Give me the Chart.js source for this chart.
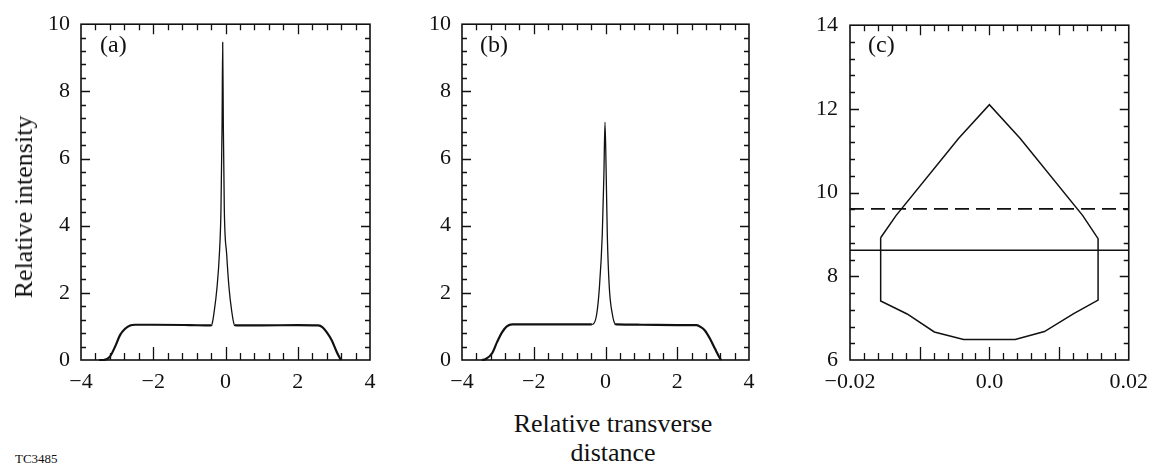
<!DOCTYPE html>
<html>
<head>
<meta charset="utf-8">
<script src="https://cdn.jsdelivr.net/npm/chart.js@4.4.1/dist/chart.umd.min.js"></script>
<style>
  body { margin: 0; background: #fff; width: 1157px; height: 465px; overflow: hidden; position: relative; }
  .painel { position: absolute; top: 0; height: 400px; }
  .txt { position: absolute; color: #111; white-space: nowrap; font-family: "Liberation Serif", "Times New Roman", serif; }
</style>
</head>
<body>
<div class="painel" style="left:0;width:390px"><canvas id="grafA"></canvas></div>
<div class="painel" style="left:400px;width:390px"><canvas id="grafB"></canvas></div>
<div class="painel" style="left:780px;width:377px"><canvas id="grafC"></canvas></div>

<div class="txt" style="left:100px;top:32px;font-size:24px;line-height:24px">(a)</div>
<div class="txt" style="left:480px;top:32px;font-size:24px;line-height:24px">(b)</div>
<div class="txt" style="left:868px;top:32px;font-size:24px;line-height:24px">(c)</div>
<div class="txt" style="left:24px;top:207px;font-size:26px;line-height:26px;transform:translate(-50%,-50%) rotate(-90deg)">Relative intensity</div>
<div class="txt" style="left:613px;top:409px;font-size:26px;line-height:29px;text-align:center;transform:translateX(-50%)">Relative transverse<br>distance</div>
<div class="txt" style="left:15px;top:452px;font-size:13px;line-height:13px">TC3485</div>

<script>
//DADOS
// (a) intensidade relativa
const xA = [-3.5, -3.38, -3.2, -3.06, -2.92, -2.78, -2.64, -2.5, -2.0, -1.0, -0.42, -0.38, -0.31, -0.235, -0.17, -0.125, -0.095, -0.078, -0.06, -0.033, 0.033, 0.097, 0.17, 0.245, 0.3, 1.0, 2.0, 2.57, 2.68, 2.8, 2.94, 3.08, 3.19];
const yA = [0, 0, 0.1, 0.39, 0.74, 0.93, 1.03, 1.05, 1.05, 1.04, 1.03, 1.05, 1.47, 2.16, 3.14, 4.5, 7.0, 9.46, 7.0, 4.5, 3.14, 2.16, 1.47, 1.05, 1.03, 1.03, 1.04, 1.03, 0.98, 0.83, 0.59, 0.24, 0];
// (b)
const xB = [-3.45, -3.35, -3.16, -3.02, -2.88, -2.75, -2.6, -2.0, -1.0, -0.38, -0.34, -0.245, -0.17, -0.09, -0.045, -0.014, 0.02, 0.05, 0.106, 0.19, 0.265, 0.32, 1.0, 2.0, 2.54, 2.66, 2.77, 2.91, 3.05, 3.19, 3.22];
const yB = [0, 0.02, 0.2, 0.54, 0.83, 1.0, 1.06, 1.06, 1.06, 1.06, 1.07, 1.37, 2.16, 3.73, 5.5, 7.08, 5.5, 3.73, 2.16, 1.37, 1.08, 1.06, 1.05, 1.04, 1.04, 0.98, 0.88, 0.64, 0.34, 0.05, 0];
// (c) contorno fechado
const xC = [-0.0156, -0.0134, -0.0044, 0.0, 0.0044, 0.0134, 0.0156, 0.0156, 0.0121, 0.0079, 0.0037, -0.0037, -0.0079, -0.0118, -0.0156, -0.0156];
const yC = [8.92, 9.45, 11.3, 12.1, 11.3, 9.45, 8.9, 7.43, 7.11, 6.68, 6.49, 6.49, 6.67, 7.1, 7.41, 8.92];
const nivelSolido = 8.62;
const nivelTracejado = 9.61;
const limitesC = [-0.02, 0.02];

const ticksXAB = [-4, -2, 0, 2, 4];
const ticksYAB = [0, 2, 4, 6, 8, 10];
const ticksXC = [-0.02, 0, 0.02];
const ticksYC = [6, 8, 10, 12, 14];

const FONTE = '"Liberation Serif", "Times New Roman", serif';
const COR = '#111';

//FUNCOES
function pontos(xs, ys) {
  return xs.map((x, i) => ({ x: x, y: ys[i] }));
}

function rotuloSimples(v) {
  return v < 0 ? '\u2212' + Math.abs(v) : String(v);
}

function rotuloC(v) {
  if (Math.abs(v) < 1e-9) return '0.0';
  return (v < 0 ? '\u2212' : '') + Math.abs(v).toFixed(2);
}

// moldura com marcas para dentro nos quatro lados
const marcas = {
  id: 'marcas',
  afterDatasetsDraw(chart, args, op) {
    const { ctx, chartArea: a, scales } = chart;
    const x = scales.x, y = scales.y;
    ctx.save();
    ctx.strokeStyle = COR;
    ctx.lineWidth = 1.6;
    ctx.strokeRect(a.left, a.top, a.right - a.left, a.bottom - a.top);
    ctx.lineWidth = 1.3;
    ctx.beginPath();
    let n = Math.round((x.max - x.min) / op.xMenor);
    for (let i = 1; i < n; i++) {
      const v = x.min + i * op.xMenor;
      const maior = Math.abs(v / op.xMaior - Math.round(v / op.xMaior)) < 1e-6;
      const px = Math.round(x.getPixelForValue(v)) + 0.5;
      ctx.moveTo(px, a.bottom); ctx.lineTo(px, a.bottom - (maior ? 13 : 7));
      ctx.moveTo(px, a.top); ctx.lineTo(px, a.top + (maior ? 10 : 6));
    }
    n = Math.round((y.max - y.min) / op.yMenor);
    for (let i = 1; i < n; i++) {
      const v = y.min + i * op.yMenor;
      const maior = Math.abs(v / op.yMaior - Math.round(v / op.yMaior)) < 1e-6;
      const py = Math.round(y.getPixelForValue(v)) + 0.5;
      ctx.moveTo(a.left, py); ctx.lineTo(a.left + (maior ? 9 : 5), py);
      ctx.moveTo(a.right, py); ctx.lineTo(a.right - (maior ? 9 : 5), py);
    }
    ctx.stroke();
    ctx.restore();
  }
};

function eixo(min, max, valores, fmt, padding) {
  return {
    type: 'linear',
    min: min,
    max: max,
    grid: { display: false, drawTicks: false },
    border: { display: false },
    ticks: { color: COR, font: { family: FONTE, size: 22 }, padding: padding, callback: fmt, maxRotation: 0 },
    afterBuildTicks: s => { s.ticks = valores.map(v => ({ value: v })); }
  };
}

function criaGrafico(id, datasets, ex, ey, larguraY, direita, op) {
  return new Chart(document.getElementById(id), {
    type: 'scatter',
    data: { datasets: datasets },
    options: {
      responsive: true,
      maintainAspectRatio: false,
      animation: false,
      layout: { padding: { top: 20, right: direita, left: 0, bottom: 0 } },
      elements: { point: { radius: 0, hoverRadius: 0 } },
      scales: {
        x: Object.assign(ex, { afterFit: s => { s.height = 40; } }),
        y: Object.assign(ey, { afterFit: s => { s.width = larguraY; } })
      },
      plugins: { legend: { display: false }, tooltip: { enabled: false }, marcas: op }
    },
    plugins: [marcas]
  });
}

function curva(xs, ys) {
  return {
    data: pontos(xs, ys),
    showLine: true,
    borderColor: COR,
    borderWidth: 2.2,
    cubicInterpolationMode: 'monotone',
    segment: { borderWidth: c => (c.p0.parsed.x > -0.4 && c.p1.parsed.x < 0.3 ? 1.3 : 2.2) },
    clip: 3
  };
}

//EXECUCAO
criaGrafico('grafA', [curva(xA, yA)],
  eixo(-4, 4, ticksXAB, rotuloSimples, 9), eixo(0, 10, ticksYAB, rotuloSimples, 11),
  81, 20, { xMenor: 0.4, xMaior: 2, yMenor: 0.4, yMaior: 2 });

criaGrafico('grafB', [curva(xB, yB)],
  eixo(-4, 4, ticksXAB, rotuloSimples, 9), eixo(0, 10, ticksYAB, rotuloSimples, 11),
  62, 41, { xMenor: 0.4, xMaior: 2, yMenor: 0.4, yMaior: 2 });

criaGrafico('grafC', [
  { data: pontos(xC, yC), showLine: true, borderColor: COR, borderWidth: 1.5, tension: 0 },
  { data: pontos(limitesC, [nivelSolido, nivelSolido]), showLine: true, borderColor: COR, borderWidth: 1.5 },
  { data: pontos(limitesC, [nivelTracejado, nivelTracejado]), showLine: true, borderColor: COR, borderWidth: 1.8, borderDash: [14, 7] }
], eixo(-0.02, 0.02, ticksXC, rotuloC, 9), eixo(6, 14, ticksYC, rotuloSimples, 12),
  70, 21, { xMenor: 0.002, xMaior: 0.01, yMenor: 0.4, yMaior: 2 });
</script>
</body>
</html>
